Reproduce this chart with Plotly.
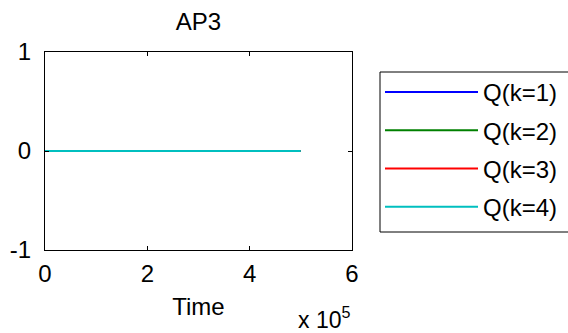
import plotly.graph_objects as go

# data
time = [0, 100000, 200000, 300000, 400000, 500000]
q1 = [0, 0, 0, 0, 0, 0]
q2 = [0, 0, 0, 0, 0, 0]
q3 = [0, 0, 0, 0, 0, 0]
q4 = [0, 0, 0, 0, 0, 0]
series_names = ["Q(k=1)", "Q(k=2)", "Q(k=3)", "Q(k=4)"]
series_colors = ["#0000FF", "#008000", "#FF0000", "#00BFBF"]
x_tickvals = [0, 200000, 400000, 600000]
x_ticktext = ["0", "2", "4", "6"]
y_tickvals = [-1, 0, 1]
y_ticktext = ["-1", "0", "1"]

FONT = "Liberation Sans, Arial, sans-serif"

# plot-area pixel geometry (for paper-coordinate conversion of the legend frame)
L, R, T, B = 45, 352, 52, 250
PW, PH = R - L, B - T

fig = go.Figure()
for i, (name, ys, col) in enumerate(zip(series_names, [q1, q2, q3, q4], series_colors)):
    fig.add_trace(go.Scatter(x=time, y=ys, mode="lines", name=name,
                             line=dict(color=col, width=2),
                             legendgroup=f"g{i}"))

fig.update_layout(
    width=568, height=333,
    margin=dict(l=L, r=568 - R, t=T, b=333 - B, autoexpand=False),
    paper_bgcolor="white", plot_bgcolor="white",
    font=dict(family=FONT, size=24, color="black"),
    title=dict(text="AP3", x=(L + R) / 2 / 568, xanchor="center",
               y=1 - 22 / 333, yanchor="middle",
               font=dict(family=FONT, size=24, color="black")),
    showlegend=True,
    legend=dict(x=(380 - L) / PW, xanchor="left", y=(B - 70) / PH, yanchor="top",
                borderwidth=0, bgcolor="rgba(0,0,0,0)",
                font=dict(family=FONT, size=24, color="black"),
                itemwidth=93, tracegroupgap=4, traceorder="grouped"),
    shapes=[dict(type="rect", xref="paper", yref="paper",
                 x0=(380 - L) / PW, x1=(580 - L) / PW,
                 y0=(B - 232) / PH, y1=(B - 72) / PH,
                 line=dict(color="black", width=1), fillcolor="rgba(0,0,0,0)")],
    xaxis=dict(range=[0, 600000], tickvals=x_tickvals, ticktext=x_ticktext,
               showgrid=False, zeroline=False, showline=True, linecolor="black",
               linewidth=1, mirror="ticks", ticks="inside", ticklen=4,
               tickcolor="black", ticklabelstandoff=2, automargin=False,
               title=dict(text="Time", standoff=12,
                          font=dict(family=FONT, size=24, color="black"))),
    yaxis=dict(range=[-1, 1], tickvals=y_tickvals, ticktext=y_ticktext,
               showgrid=False, zeroline=False, showline=True, linecolor="black",
               linewidth=1, mirror="ticks", ticks="inside", ticklen=4,
               tickcolor="black", ticklabelstandoff=8, automargin=False),
    annotations=[dict(text="x 10<sup>5</sup>", xref="paper", yref="paper",
                      x=1.0, y=(B - 318) / PH, xanchor="right", yanchor="middle",
                      showarrow=False,
                      font=dict(family=FONT, size=23, color="black"))],
)

fig.write_html("out.html", config={"displayModeBar": False},
               post_script="document.body.style.margin='0';document.body.style.overflow='hidden';")
